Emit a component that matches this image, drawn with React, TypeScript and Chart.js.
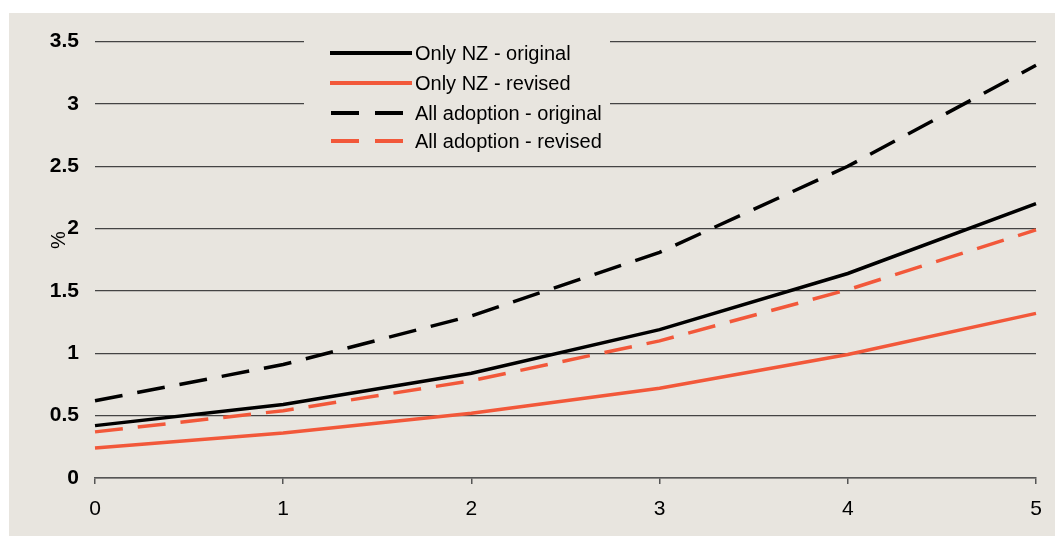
import React, { useEffect, useRef } from "react";
import { Chart, registerables } from "chart.js";

Chart.register(...registerables);

const categories = ["0", "1", "2", "3", "4", "5"];
const onlyNzOriginal = [0.42, 0.59, 0.84, 1.19, 1.64, 2.2];
const onlyNzRevised = [0.24, 0.36, 0.52, 0.72, 0.99, 1.32];
const allAdoptionOriginal = [0.62, 0.91, 1.3, 1.81, 2.5, 3.31];
const allAdoptionRevised = [0.37, 0.54, 0.78, 1.1, 1.51, 1.99];
const yTickLabels = ["0", "0.5", "1", "1.5", "2", "2.5", "3", "3.5"];
const seriesNames = [
  "Only NZ - original",
  "Only NZ - revised",
  "All adoption - original",
  "All adoption - revised",
];
const yAxisTitle = "%";

const FONT = "'Liberation Sans', Arial, sans-serif";
const BG = "#E8E5DF";
const RED = "#F2583A";
const BLACK = "#000000";
const DASH = [28, 15];

export default function App() {
  const ref = useRef<HTMLCanvasElement | null>(null);

  useEffect(() => {
    if (!ref.current) return;

    const legendPlugin = {
      id: "customLegend",
      beforeDatasetsDraw(chart: any) {
        const ctx = chart.ctx;
        ctx.save();
        ctx.fillStyle = BG;
        ctx.fillRect(295, 17, 306, 128);
        const rowY = [40, 70, 100, 128];
        chart.data.datasets.forEach((ds: any, i: number) => {
          const y = rowY[i];
          ctx.beginPath();
          ctx.strokeStyle = ds.borderColor;
          ctx.lineWidth = 3.8;
          ctx.lineCap = "butt";
          if (ds.borderDash && ds.borderDash.length) {
            ctx.setLineDash([28, 16]);
            ctx.moveTo(322, y);
            ctx.lineTo(395, y);
          } else {
            ctx.setLineDash([]);
            ctx.moveTo(321, y);
            ctx.lineTo(403, y);
          }
          ctx.stroke();
          ctx.setLineDash([]);
          ctx.fillStyle = "#000";
          ctx.font = `20px ${FONT}`;
          ctx.textBaseline = "middle";
          ctx.textAlign = "left";
          ctx.fillText(ds.label, 406, y + 1);
        });
        ctx.restore();
      },
      afterDraw(chart: any) {
        const ctx = chart.ctx;
        ctx.save();
        ctx.translate(50, 227);
        ctx.rotate(-Math.PI / 2);
        ctx.fillStyle = "#000";
        ctx.font = `20px ${FONT}`;
        ctx.textAlign = "center";
        ctx.textBaseline = "middle";
        ctx.fillText(yAxisTitle, 0, 0);
        ctx.restore();
      },
    };

    const chart = new Chart(ref.current, {
      type: "line",
      data: {
        labels: categories,
        datasets: [
          {
            label: seriesNames[0],
            data: onlyNzOriginal,
            borderColor: BLACK,
            borderWidth: 3.5,
            pointRadius: 0,
            tension: 0,
            fill: false,
          },
          {
            label: seriesNames[1],
            data: onlyNzRevised,
            borderColor: RED,
            borderWidth: 3.5,
            pointRadius: 0,
            tension: 0,
            fill: false,
          },
          {
            label: seriesNames[2],
            data: allAdoptionOriginal,
            borderColor: BLACK,
            borderWidth: 3.5,
            borderDash: DASH,
            pointRadius: 0,
            tension: 0,
            fill: false,
          },
          {
            label: seriesNames[3],
            data: allAdoptionRevised,
            borderColor: RED,
            borderWidth: 3.5,
            borderDash: DASH,
            pointRadius: 0,
            tension: 0,
            fill: false,
          },
        ],
      },
      options: {
        responsive: false,
        animation: false,
        layout: { padding: { top: 25, right: 19, bottom: 0, left: 0 } },
        plugins: {
          legend: { display: false },
          tooltip: { enabled: false },
          title: { display: false },
        },
        scales: {
          x: {
            type: "category",
            offset: false,
            grid: {
              drawOnChartArea: false,
              drawTicks: true,
              tickLength: 6,
              color: "#555",
              lineWidth: 1.5,
            },
            border: { display: true, color: "#555", width: 1.5 },
            ticks: {
              color: "#000",
              font: { family: FONT, size: 21 },
              padding: 13,
              maxRotation: 0,
            },
            afterFit(scale: any) {
              scale.height = 58;
            },
          },
          y: {
            min: 0,
            max: 3.5,
            grid: {
              drawTicks: false,
              color: "#444",
              lineWidth: 1.3,
            },
            border: { display: false },
            ticks: {
              stepSize: 0.5,
              color: "#000",
              font: { family: FONT, size: 21, weight: "bold" },
              padding: 16,
              callback: (_v: any, i: number) => yTickLabels[i],
            },
            afterFit(scale: any) {
              scale.width = 86;
            },
          },
        },
      },
      plugins: [legendPlugin],
    } as any);

    return () => chart.destroy();
  }, []);

  return (
    <div
      style={{
        position: "absolute",
        left: 0,
        top: 0,
        width: 1055,
        height: 536,
        background: "#ffffff",
      }}
    >
      <div
        style={{
          position: "absolute",
          left: 9,
          top: 13,
          width: 1046,
          height: 523,
          background: BG,
        }}
      >
        <canvas
          ref={ref}
          width={1046}
          height={523}
          style={{ width: 1046, height: 523, display: "block" }}
        />
      </div>
    </div>
  );
}
